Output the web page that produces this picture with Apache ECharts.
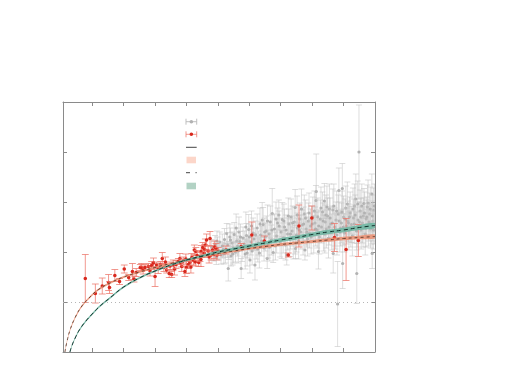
<!DOCTYPE html>
<html><head><meta charset="utf-8">
<script src="https://cdn.jsdelivr.net/npm/echarts@6/dist/echarts.min.js"></script>
<style>html,body{margin:0;padding:0;background:#fff}#c{width:520px;height:391px}</style>
</head><body><div id="c"></div><script>
// ---- data ----
const xTicks = [1, 2, 3, 4, 5, 6, 7, 8, 9];
const xMin = 0.07, xMax = 10;
const yMin = 0, yMax = 5, yStep = 1;
const refLine = 1;

const fit1X = [0.13,0.2,0.3,0.45,0.65,0.9,1.2,1.6,2.0,2.5,3.0,3.5,4.0,4.5,5.0,5.5,6.0,6.5,7.0,7.5,8.0,8.5,9.0,9.5,10.0];
const fit1Y = [0,0.22,0.45,0.68,0.9,1.08,1.25,1.39,1.5,1.6,1.69,1.77,1.84,1.91,1.97,2.02,2.07,2.11,2.15,2.18,2.21,2.24,2.27,2.29,2.31];
const fit1Err = [0.02,0.02,0.02,0.02,0.02,0.02,0.02,0.02,0.02,0.02,0.02,0.02,0.02,0.02,0.025,0.025,0.025,0.03,0.03,0.03,0.03,0.035,0.035,0.035,0.04];

const fit2X = [0.29,0.35,0.45,0.6,0.8,1.0,1.25,1.6,2.0,2.5,3.0,3.5,4.0,4.5,5.0,5.5,6.0,6.5,7.0,7.5,8.0,8.5,9.0,9.5,10.0];
const fit2Y = [0,0.12,0.27,0.45,0.62,0.76,0.92,1.1,1.3,1.48,1.62,1.74,1.84,1.92,2.0,2.06,2.12,2.18,2.24,2.29,2.35,2.4,2.44,2.49,2.53];
const fit2Err = [0.02,0.02,0.02,0.02,0.02,0.02,0.02,0.02,0.02,0.02,0.02,0.02,0.025,0.025,0.03,0.03,0.035,0.035,0.04,0.04,0.04,0.045,0.045,0.05,0.05];

// red points: [x, y, err]
const redPoints = [
[0.78,1.47,0.48],[1.10,1.17,0.19],[1.32,1.32,0.16],[1.52,1.39,0.16],[1.55,1.29,0.12],[1.72,1.53,0.12],
[1.87,1.41,0.06],[2.02,1.66,0.08],[2.16,1.49,0.06],[2.28,1.61,0.16],[2.33,1.46,0.06],[2.40,1.59,0.08],
[2.53,1.69,0.06],[2.57,1.69,0.08],[2.62,1.64,0.08],[2.68,1.69,0.06],[2.79,1.71,0.06],[2.84,1.62,0.1],
[2.89,1.73,0.08],[2.95,1.78,0.1],[3.00,1.51,0.2],[3.05,1.74,0.06],[3.10,1.67,0.1],[3.18,1.75,0.06],
[3.23,1.87,0.12],[3.28,1.69,0.08],[3.33,1.80,0.1],[3.37,1.64,0.06],[3.45,1.57,0.08],[3.48,1.72,0.08],
[3.53,1.55,0.06],[3.58,1.74,0.1],[3.62,1.66,0.12],[3.67,1.75,0.08],[3.74,1.81,0.06],[3.79,1.87,0.1],
[3.82,1.78,0.08],[3.85,1.71,0.1],[3.90,1.82,0.08],[3.95,1.61,0.1],[3.98,1.86,0.1],[4.00,1.69,0.12],
[4.06,1.75,0.08],[4.11,1.79,0.06],[4.14,1.70,0.12],[4.17,1.89,0.08],[4.22,1.84,0.1],[4.25,2.04,0.1],
[4.28,1.80,0.08],[4.30,2.01,0.08],[4.34,1.93,0.1],[4.39,1.79,0.08],[4.43,1.91,0.1],[4.46,1.85,0.14],
[4.47,2.01,0.12],[4.52,2.09,0.1],[4.56,1.97,0.08],[4.58,2.05,0.1],[4.60,2.14,0.12],[4.64,2.24,0.12],
[4.69,2.02,0.1],[4.72,1.90,0.12],[4.75,2.27,0.14],[4.78,1.94,0.1],[4.83,2.04,0.08],[4.88,1.95,0.08],
[4.90,2.10,0.12],[4.94,2.07,0.1],[4.97,1.94,0.1],[5.01,2.01,0.08],[5.26,2.04,0.08],[5.74,2.11,0.06],
[6.08,2.34,0.26],[6.48,2.22,0.1],[7.24,1.94,0.04],[7.58,2.52,0.42],[7.99,2.68,0.24],[8.71,2.29,0.28],
[9.08,2.05,0.62],[9.47,2.23,0.32]
];

// gray points: [x, y, err]
const grayPoints = [
[4.80,2.10,0.15],[4.84,1.95,0.12],[4.87,2.02,0.2],[4.91,2.15,0.18],[4.95,1.90,0.15],[4.99,2.08,0.22],
[5.03,2.00,0.16],[5.06,2.20,0.2],[5.10,1.94,0.18],[5.14,2.12,0.24],[5.17,2.05,0.15],[5.21,2.25,0.22],
[5.24,1.98,0.2],[5.28,2.37,0.2],[5.31,2.14,0.25],[5.33,1.67,0.25],[5.35,2.03,0.18],[5.38,2.30,0.26],
[5.42,1.92,0.2],[5.45,2.18,0.22],[5.49,2.08,0.3],[5.52,2.35,0.24],[5.56,2.00,0.2],[5.60,2.22,0.26],
[5.63,2.12,0.2],[5.67,2.40,0.3],[5.70,2.21,0.2],[5.74,1.67,0.2],[5.77,2.05,0.24],[5.80,2.28,0.22],
[5.84,2.16,0.26],[5.87,1.96,0.3],[5.91,2.33,0.24],[5.95,2.10,0.22],[5.98,2.45,0.3],[6.02,1.84,0.26],
[6.05,2.20,0.26],[6.09,2.02,0.28],[6.12,2.38,0.3],[6.15,2.26,0.22],[6.18,1.74,0.3],[6.22,2.12,0.26],
[6.25,2.48,0.28],[6.29,2.18,0.24],[6.32,1.98,0.3],[6.36,2.34,0.26],[6.39,2.22,0.3],[6.41,2.64,0.35],
[6.44,2.55,0.34],[6.47,2.08,0.26],[6.51,2.30,0.28],[6.54,2.42,0.3],[6.57,1.87,0.2],[6.60,2.16,0.28],
[6.63,2.36,0.26],[6.67,2.60,0.32],[6.70,2.24,0.3],[6.73,2.77,0.5],[6.76,1.99,0.2],[6.80,2.46,0.3],
[6.83,2.12,0.28],[6.87,2.32,0.34],[6.90,2.58,0.3],[6.94,2.74,0.3],[6.98,2.20,0.3],[7.01,2.40,0.28],
[7.05,2.65,0.34],[7.08,2.28,0.3],[7.12,2.50,0.36],[7.15,2.14,0.3],[7.19,1.94,0.2],[7.22,2.36,0.32],
[7.26,2.56,0.3],[7.29,2.25,0.34],[7.33,2.70,0.36],[7.36,2.42,0.3],[7.40,2.18,0.32],[7.43,2.60,0.3],
[7.46,2.89,0.36],[7.47,2.07,0.2],[7.50,2.34,0.34],[7.53,2.48,0.3],[7.57,2.22,0.36],[7.61,2.66,0.32],
[7.64,2.40,0.34],[7.68,2.54,0.3],[7.71,2.30,0.36],[7.75,2.76,0.38],[7.77,2.04,0.2],[7.81,2.46,0.32],
[7.85,2.26,0.34],[7.88,2.62,0.36],[7.92,2.38,0.3],[7.95,2.52,0.34],[8.02,2.70,0.4],[8.05,2.34,0.36],
[8.09,2.58,0.32],[8.12,3.03,0.3],[8.13,3.21,0.75],[8.16,2.44,0.36],[8.20,2.01,0.35],[8.23,2.30,0.34],
[8.26,2.66,0.38],[8.30,2.50,0.32],[8.33,2.80,0.4],[8.36,2.38,0.36],[8.39,3.02,0.35],[8.42,2.60,0.34],
[8.45,2.46,0.38],[8.49,2.72,0.36],[8.52,2.28,0.4],[8.55,2.86,0.5],[8.59,2.56,0.34],[8.62,2.40,0.36],
[8.66,2.84,0.42],[8.67,1.97,0.39],[8.72,2.50,0.38],[8.76,2.64,0.36],[8.79,2.34,0.4],[8.81,0.96,0.85],
[8.83,2.76,0.38],[8.85,3.23,0.45],[8.90,2.48,0.36],[8.93,2.58,0.4],[8.96,3.27,0.5],[8.97,1.77,0.5],
[9.00,2.70,0.42],[9.03,2.38,0.38],[9.07,2.88,0.44],[9.10,2.52,0.36],[9.14,2.62,0.4],[9.17,2.42,0.38],
[9.21,2.78,0.42],[9.25,2.55,0.36],[9.28,2.32,0.4],[9.32,2.68,0.38],[9.35,2.92,0.44],[9.39,3.06,0.5],
[9.42,1.57,0.6],[9.43,2.50,0.4],[9.46,2.64,0.36],[9.49,4.00,0.94],[9.53,2.82,0.42],[9.56,2.44,0.38],
[9.60,2.58,0.4],[9.63,2.72,0.36],[9.65,2.97,0.3],[9.69,2.36,0.42],[9.72,2.66,0.38],[9.76,2.90,0.44],
[9.79,2.52,0.4],[9.83,2.76,0.42],[9.86,2.46,0.38],[9.90,3.16,0.4],[9.91,1.97,0.3],[9.93,2.62,0.4],
[9.96,2.84,0.44],[9.99,2.54,0.38],
[6.95,2.52,0.3],[7.03,2.15,0.28],[7.10,2.62,0.34],[7.17,2.44,0.3],[7.24,2.72,0.36],[7.31,2.36,0.3],
[7.38,2.58,0.34],[7.45,2.28,0.32],[7.52,2.74,0.38],[7.59,2.44,0.3],[7.66,2.86,0.4],[7.73,2.56,0.34],
[7.79,2.68,0.36],[7.83,2.40,0.3],[7.90,2.78,0.4],[7.97,2.30,0.34],[8.00,2.56,0.36],[8.07,2.82,0.4],
[8.11,2.46,0.34],[8.18,2.70,0.38],[8.21,2.52,0.32],[8.28,2.88,0.42],[8.35,2.62,0.36],[8.40,2.36,0.38],
[8.44,2.74,0.4],[8.47,2.90,0.42],[8.54,2.50,0.36],[8.57,2.68,0.4],[8.64,2.58,0.34],[8.69,2.92,0.44],
[8.74,2.42,0.36],[8.78,2.82,0.4],[8.86,2.62,0.38],[8.88,2.40,0.4],[8.95,2.80,0.42],[8.99,2.50,0.36],
[9.05,2.66,0.4],[9.12,2.96,0.44],[9.16,2.58,0.38],[9.19,2.70,0.4],[9.23,2.46,0.36],[9.30,2.86,0.42],
[9.34,2.56,0.38],[9.37,2.74,0.4],[9.41,2.42,0.38],[9.45,2.96,0.46],[9.51,2.60,0.4],[9.55,2.70,0.38],
[9.58,2.92,0.44],[9.62,2.50,0.4],[9.67,2.78,0.42],[9.71,2.48,0.38],[9.74,2.70,0.4],[9.78,2.98,0.46],
[9.81,2.60,0.38],[9.85,2.86,0.44],[9.88,2.56,0.4],[9.92,2.72,0.42],[9.95,2.44,0.38],[9.98,2.92,0.44],
[6.00,2.30,0.26],[6.07,2.52,0.3],[6.20,2.34,0.28],[6.27,2.06,0.26],[6.34,2.56,0.32],[6.49,2.40,0.28],
[6.58,2.62,0.32],[6.65,2.10,0.28],[6.72,2.44,0.3],[6.85,2.66,0.34],[5.58,2.48,0.28],[5.65,2.02,0.24],
[5.72,2.30,0.26],[5.89,2.50,0.3],[5.93,1.98,0.26],[5.40,2.24,0.24],[5.47,1.96,0.22],[5.19,1.96,0.2],
[4.97,2.22,0.2]
];

// ---- styles ----
const frameColor = '#8a8a8a';
const grayBar = 'rgba(195,195,195,0.55)', grayDot = '#b2b2b2';
const redBar = 'rgba(236,118,106,0.75)', redDot = '#d8281d';
const band1Color = 'rgba(236,142,112,0.85)', band2Color = 'rgba(112,182,162,0.9)';

function errRender(barColor, dotColor, r, cw) {
  return function (params, api) {
    const x = api.value(0), y = api.value(1), e = api.value(2);
    const p = api.coord([x, y]), t = api.coord([x, y + e]), b = api.coord([x, y - e]);
    const s = { stroke: barColor, lineWidth: 1 };
    return { type: 'group', children: [
      { type: 'line', shape: { x1: p[0], y1: t[1], x2: p[0], y2: b[1] }, style: s },
      { type: 'line', shape: { x1: p[0] - cw, y1: t[1], x2: p[0] + cw, y2: t[1] }, style: s },
      { type: 'line', shape: { x1: p[0] - cw, y1: b[1], x2: p[0] + cw, y2: b[1] }, style: s },
      { type: 'circle', shape: { cx: p[0], cy: p[1], r: r }, style: { fill: dotColor } }
    ]};
  };
}
function bandRender(xs, ys, es, color) {
  return function (params, api) {
    const up = [], lo = [];
    for (let i = 0; i < xs.length; i++) {
      up.push(api.coord([xs[i], ys[i] + es[i]]));
      lo.unshift(api.coord([xs[i], ys[i] - es[i]]));
    }
    return { type: 'polygon', shape: { points: up.concat(lo), smooth: 0.3 }, style: { fill: color } };
  };
}
const zip = (xs, ys) => xs.map((x, i) => [x, ys[i]]);

function xAx(pos) {
  return { type: 'value', min: xMin, max: xMax, position: pos,
    axisLine: { show: true, onZero: false, lineStyle: { color: frameColor, width: 1 } },
    axisTick: { show: true, inside: true, length: 4, customValues: xTicks, lineStyle: { color: frameColor } },
    axisLabel: { show: false }, splitLine: { show: false } };
}
function yAx(pos) {
  return { type: 'value', min: yMin, max: yMax, interval: yStep, position: pos,
    axisLine: { show: true, onZero: false, lineStyle: { color: frameColor, width: 1 } },
    axisTick: { show: true, inside: true, length: 4, lineStyle: { color: frameColor } },
    axisLabel: { show: false }, splitLine: { show: false } };
}

const L = { x0: 186, x1: 196.7 };
const legendRows = [121.7, 134.3, 147.3, 160, 172.7, 186];
function legendErr(y, bar, dot) {
  return [
    { type: 'line', shape: { x1: L.x0, y1: y, x2: L.x1, y2: y }, style: { stroke: bar, lineWidth: 1 } },
    { type: 'line', shape: { x1: L.x0, y1: y - 3, x2: L.x0, y2: y + 3 }, style: { stroke: bar, lineWidth: 1 } },
    { type: 'line', shape: { x1: L.x1, y1: y - 3, x2: L.x1, y2: y + 3 }, style: { stroke: bar, lineWidth: 1 } },
    { type: 'circle', shape: { cx: (L.x0 + L.x1) / 2, cy: y, r: 1.8 }, style: { fill: dot } }
  ];
}
const graphic = [].concat(
  legendErr(legendRows[0], 'rgba(185,185,185,0.9)', grayDot),
  legendErr(legendRows[1], redBar, redDot),
  [
    { type: 'line', shape: { x1: L.x0, y1: legendRows[2], x2: L.x1, y2: legendRows[2] }, style: { stroke: '#444', lineWidth: 1 } },
    { type: 'rect', shape: { x: L.x0 + 0.5, y: legendRows[3] - 3.3, width: 9.5, height: 6.6 }, style: { fill: '#fcd6c9' } },
    { type: 'line', shape: { x1: L.x0, y1: legendRows[4], x2: L.x0 + 4, y2: legendRows[4] }, style: { stroke: '#444', lineWidth: 1 } },
    { type: 'line', shape: { x1: L.x1 - 1.2, y1: legendRows[4], x2: L.x1, y2: legendRows[4] }, style: { stroke: '#444', lineWidth: 1 } },
    { type: 'rect', shape: { x: L.x0 + 0.5, y: legendRows[5] - 3.3, width: 9.5, height: 6.6 }, style: { fill: '#b2d2c4' } }
  ]
);

const chart = echarts.init(document.getElementById('c'), null, { renderer: 'canvas' });
chart.setOption({
  animation: false,
  backgroundColor: '#fff',
  grid: { left: 63, right: 145, top: 102, bottom: 39, containLabel: false },
  xAxis: [xAx('bottom'), xAx('top')],
  yAxis: [yAx('left'), yAx('right')],
  graphic: graphic,
  series: [
    { type: 'line', data: [], markLine: { silent: true, symbol: 'none', label: { show: false },
        lineStyle: { color: '#b5b5b5', type: [1, 3], width: 1 }, data: [{ yAxis: refLine }] } },
    { type: 'custom', clip: true, data: grayPoints, renderItem: errRender(grayBar, grayDot, 1.6, 3), z: 2 },
    { type: 'custom', clip: true, data: redPoints, renderItem: errRender(redBar, redDot, 1.8, 3.4), z: 3 },
    { type: 'custom', clip: true, data: [0], renderItem: bandRender(fit1X, fit1Y, fit1Err, band1Color), z: 4 },
    { type: 'custom', clip: true, data: [0], renderItem: bandRender(fit2X, fit2Y, fit2Err, band2Color), z: 4 },
    { type: 'line', data: zip(fit1X, fit1Y), showSymbol: false, smooth: true, clip: true, z: 5,
      lineStyle: { color: '#4a2e22', width: 0.8, type: [3, 3] } },
    { type: 'line', data: zip(fit2X, fit2Y), showSymbol: false, smooth: true, clip: true, z: 5,
      lineStyle: { color: '#10302a', width: 1, type: [4, 3] } }
  ]
});
</script></body></html>
